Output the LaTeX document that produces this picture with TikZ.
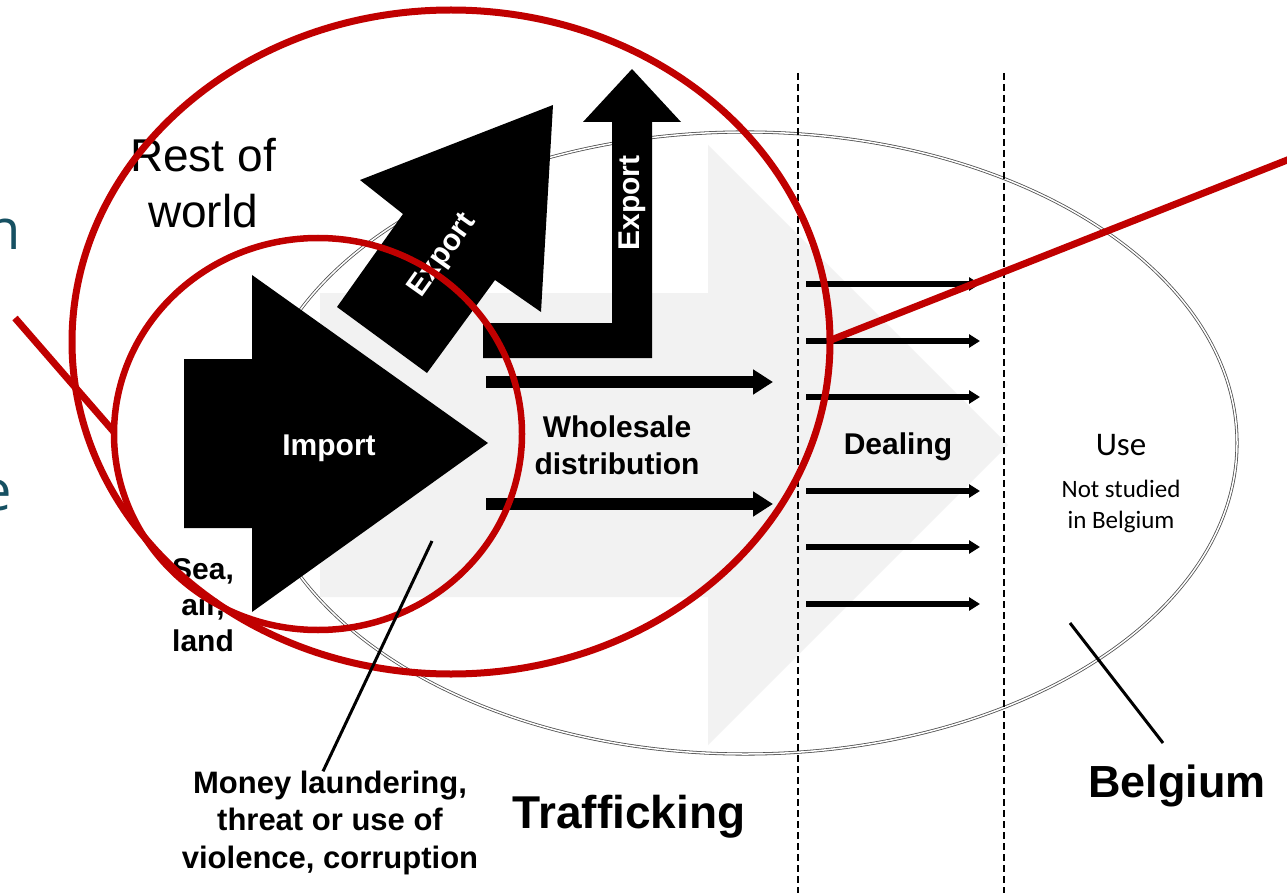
\documentclass[tikz,border=0pt]{standalone}
\usepackage{fontspec}
\setmainfont{Liberation Sans}
\newfontfamily\calib{Carlito}
\newfontfamily\opensans{Open Sans}
\usetikzlibrary{arrows.meta}
\definecolor{redc}{RGB}{192,0,0}
\definecolor{tealc}{RGB}{22,80,98}
\definecolor{grayfill}{RGB}{242,242,242}
\definecolor{ellline}{RGB}{80,80,80}
\begin{document}
\begin{tikzpicture}[x=1pt,y=-1pt,
  boldtxt/.style={font=\fontsize{30}{37}\selectfont\bfseries, align=center, inner sep=0pt},
  whitetxt/.style={font=\fontsize{30}{36}\selectfont\bfseries, text=white, inner sep=0pt},
  blackshape/.style={fill=black},
  bigflow/.style={line width=12pt, -{Triangle[length=20pt,width=24pt]}},
  smallflow/.style={line width=5.5pt, -{Triangle[length=11pt,width=13pt]}},
  divider/.style={line width=1.5pt, dash pattern=on 7pt off 4pt},
  redmark/.style={draw=redc, line width=7pt},
  pointer/.style={line width=3pt},
  tealtxt/.style={font=\fontsize{56}{60}\selectfont\opensans, text=tealc, inner sep=0pt}
]
\useasboundingbox (0,0) rectangle (1287,893);
\clip (0,0) rectangle (1287,893);
\fill[white] (0,0) rectangle (1287,893);

% partial text at the left edge
\node[tealtxt, anchor=base east] (tn) at (21,250) {n};
\node[tealtxt, anchor=base east] (te) at (12,510) {e};

% large outline ellipse (Belgium)
\draw[draw=ellline, line width=0.8pt, double=white, double distance=1.5pt] (745,443) ellipse [x radius=492, y radius=311];

% grey background arrow
\fill[grayfill] (320,293) -- (708,293) -- (708,145) -- (1008,445) -- (708,745) -- (708,597) -- (320,597) -- cycle;

% dashed dividers
\coordinate (d1t) at (798,73); \coordinate (d1b) at (798,893);
\coordinate (d2t) at (1004,73); \coordinate (d2b) at (1004,893);
\draw[divider] (d1t) -- (d1b);
\draw[divider] (d2t) -- (d2b);

% import arrow
\fill[blackshape] (184,359) -- (252,359) -- (252,275) -- (488,443) -- (252,612) -- (252,528) -- (184,528) -- cycle;
\node[whitetxt, anchor=base] (import) at (329,455) {Import};

% diagonal export arrow
\fill[blackshape] (337,307) -- (403,214) -- (360,180) -- (553,105) -- (541,312) -- (495,280) -- (427,373) -- cycle;
\node[whitetxt, rotate=54.6] (export1) at (443,256) {Export};

% L-shaped export arrow
\fill[blackshape] (483,323) -- (612,323) -- (612,122) -- (583,122) -- (632,69) -- (681,122) -- (652,122) -- (652,358) -- (483,358) -- cycle;
\node[whitetxt, rotate=90] (export2) at (632,203) {Export};

% wholesale arrows
\coordinate (w1s) at (486,382); \coordinate (w1e) at (773,382);
\coordinate (w2s) at (486,504); \coordinate (w2e) at (773,504);
\draw[bigflow] (w1s) -- (w1e);
\draw[bigflow] (w2s) -- (w2e);

% dealing arrows
\foreach \y/\n in {284/a,341/b,397/c,491/d,547/e,604/f}{
  \coordinate (ds\n) at (806,\y);
  \coordinate (de\n) at (980,\y);
  \draw[smallflow] (ds\n) -- (de\n);
}

% texts (anchor=base of a multi-line node is the last line's baseline)
\node[font=\fontsize{46}{56}\selectfont, align=center, inner sep=0pt, anchor=base] (rest) at (203,228) {Rest of\\world};
\node[boldtxt, anchor=base] (whole) at (617,474) {Wholesale\\distribution};
\node[boldtxt, anchor=base] (deal) at (898,454) {Dealing};
\node[boldtxt, anchor=base, font=\fontsize{30}{36}\selectfont\bfseries] (sea) at (203,651) {Sea,\\air,\\land};
\node[boldtxt, anchor=base, font=\fontsize{31}{37.5}\selectfont\bfseries] (money) at (330,868) {Money laundering,\\threat or use of\\violence, corruption};
\node[anchor=base, inner sep=0pt, font=\fontsize{46}{50}\selectfont\bfseries] (traf) at (629,828) {Trafficking};
\node[anchor=base, inner sep=0pt, font=\fontsize{45}{50}\selectfont\bfseries] (bel) at (1177,797) {Belgium};
\node[anchor=base, inner sep=0pt, font=\fontsize{33}{36}\selectfont\calib] (use) at (1121,455) {Use};
\node[anchor=base, inner sep=0pt, align=center, font=\fontsize{25}{31}\selectfont\calib] (nots) at (1121,528) {Not studied\\in Belgium};

% red highlights
\draw[redmark] (451,342) ellipse [x radius=379, y radius=332];
\draw[redmark, line width=6.5pt] (318,434) ellipse [x radius=204, y radius=196];
\coordinate (rl1) at (15,318); \coordinate (rl2) at (114,432);
\draw[redmark] (rl1) -- (rl2);
\coordinate (rr1) at (831,340); \coordinate (rr2) at (1300,155);
\draw[redmark] (rr1) -- (rr2);

% black pointer lines
\coordinate (p1) at (432,541);
\draw[pointer] (p1) -- ([xshift=-7pt,yshift=-1pt]money.north);
\coordinate (p2) at (1070,623); \coordinate (p3) at (1163,743);
\draw[pointer] (p2) -- (p3);
\end{tikzpicture}
\end{document}
